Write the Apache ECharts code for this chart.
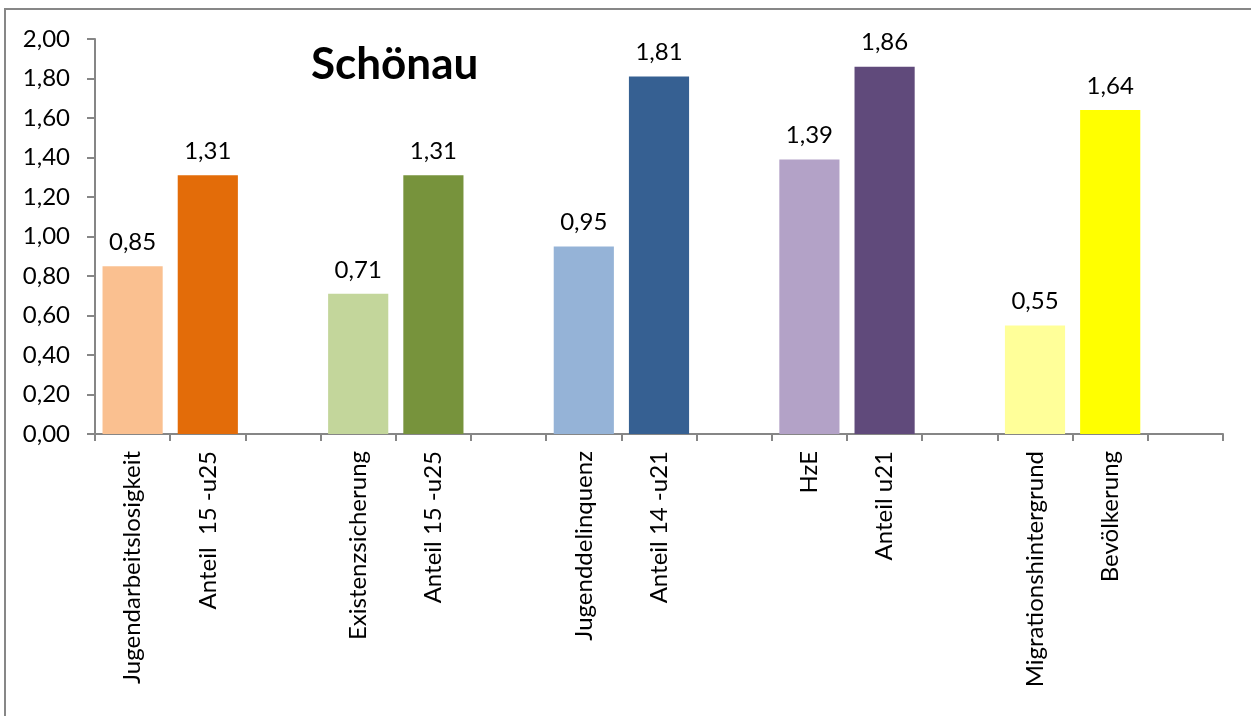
<!DOCTYPE html>
<html><head><meta charset="utf-8">
<script src="https://cdn.jsdelivr.net/npm/echarts@6/dist/echarts.min.js"></script>
<style>html,body{margin:0;padding:0;background:#fff}#c{width:1251px;height:716px}</style>
</head><body><div id="c"></div>
<script>
const categories = ['Jugendarbeitslosigkeit','Anteil  15 -u25','','Existenzsicherung','Anteil 15 -u25','','Jugenddelinquenz','Anteil 14 -u21','','HzE','Anteil u21','','Migrationshintergrund','Bevölkerung',''];
const values = [0.85,1.31,null,0.71,1.31,null,0.95,1.81,null,1.39,1.86,null,0.55,1.64,null];
const colors = ['#FAC090','#E36C09',null,'#C3D69B','#77933C',null,'#95B3D7','#366092',null,'#B3A2C7','#604A7B',null,'#FFFF99','#FFFF00',null];
const yTicks = {min:0,max:2,interval:0.2};
const title = 'Schönau';
const FONT = 'Lato, "Open Sans", sans-serif';
const chart = echarts.init(document.getElementById('c'));
chart.setOption({
  animation:false,
  backgroundColor:'#fff',
  graphic:[{type:'rect',shape:{x:5,y:9,width:1300,height:800},style:{fill:'none',stroke:'#878787',lineWidth:2},z:-1}],
  title:{text:title,left:306,top:38,textStyle:{fontFamily:FONT,fontWeight:'bold',fontSize:44,color:'#000'}},
  grid:{left:95,right:28,top:39,bottom:282},
  xAxis:{type:'category',data:categories,
    axisLine:{lineStyle:{color:'#868686',width:2}},
    axisTick:{show:true,alignWithLabel:false,length:7,lineStyle:{color:'#868686',width:2}},
    axisLabel:{rotate:90,interval:0,margin:17,fontFamily:FONT,fontSize:24,color:'#000'}},
  yAxis:{type:'value',min:yTicks.min,max:yTicks.max,interval:yTicks.interval,
    splitLine:{show:false},
    axisLine:{show:true,lineStyle:{color:'#868686',width:2}},
    axisTick:{show:true,length:8,lineStyle:{color:'#868686',width:2}},
    axisLabel:{margin:25,fontFamily:FONT,fontSize:24,color:'#000',formatter:v=>v.toFixed(2).replace('.',',')}},
  series:[{type:'bar',barWidth:'80%',
    data:values.map((v,i)=>({value:v,itemStyle:{color:colors[i]||'#fff'}})),
    label:{show:true,position:'top',distance:12,fontFamily:FONT,fontSize:24,color:'#000',
      formatter:p=>p.value==null?'':p.value.toFixed(2).replace('.',',')}}]
});
</script></body></html>
